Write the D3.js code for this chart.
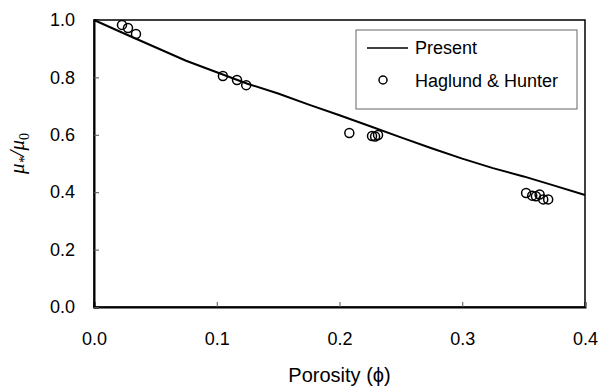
<!DOCTYPE html>
<html>
<head>
<meta charset="utf-8">
<script src="https://cdn.jsdelivr.net/npm/d3@7"></script>
<style>
    body { margin: 0; background: #fff; }
    text { font-family: "Liberation Sans", Arial, sans-serif; fill: #000; }
</style>
</head>
<body>
<div id="my_dataviz"></div>
<script>
// Present model curve
var presentPhi = [0, 0.025, 0.05, 0.075, 0.1, 0.125, 0.15, 0.175, 0.2, 0.225, 0.25, 0.275, 0.3, 0.325, 0.35, 0.375, 0.4];
var presentRatio = [1.0, 0.952, 0.905, 0.858, 0.818, 0.778, 0.744, 0.705, 0.668, 0.630, 0.591, 0.553, 0.517, 0.484, 0.455, 0.423, 0.39];

// Haglund & Hunter measurements
var hhPhi = [0.0228, 0.0277, 0.0342, 0.105, 0.1165, 0.124, 0.208, 0.2265, 0.229, 0.2314, 0.352, 0.357, 0.360, 0.363, 0.366, 0.370];
var hhRatio = [0.983, 0.972, 0.951, 0.805, 0.791, 0.773, 0.606, 0.596, 0.594, 0.599, 0.397, 0.388, 0.386, 0.392, 0.375, 0.375];

var xTicks = [0, 0.1, 0.2, 0.3, 0.4];
var yTicks = [0, 0.2, 0.4, 0.6, 0.8, 1.0];

var margin = { top: 20, right: 24, bottom: 81, left: 94 },
    width = 609 - margin.left - margin.right,
    height = 388 - margin.top - margin.bottom;

var svg = d3.select("#my_dataviz")
    .append("svg")
    .attr("width", 609)
    .attr("height", 388)
    .append("g")
    .attr("transform", "translate(" + margin.left + "," + margin.top + ")");

var x = d3.scaleLinear().domain([0, 0.4]).range([0, width]);
var y = d3.scaleLinear().domain([0, 1]).range([height, 0]);

// frame (top + right)
svg.append("rect")
    .attr("width", width)
    .attr("height", height)
    .attr("fill", "none")
    .attr("stroke", "#000")
    .attr("stroke-width", 1.5);

// X axis, ticks pointing inward
var xAxis = svg.append("g")
    .attr("transform", "translate(0," + height + ")")
    .call(d3.axisBottom(x).tickValues(xTicks).tickSize(-5).tickPadding(25).tickFormat(d3.format(".1f")));
xAxis.select(".domain").attr("stroke-width", 2);
xAxis.selectAll(".tick line").attr("stroke", "#555");
xAxis.selectAll(".tick text").style("font-size", "18px");

// Y axis
var yAxis = svg.append("g")
    .call(d3.axisLeft(y).tickValues(yTicks).tickSize(-5).tickPadding(19).tickFormat(d3.format(".1f")));
yAxis.select(".domain").attr("stroke-width", 2);
yAxis.selectAll(".tick line").attr("stroke", "#555");
yAxis.selectAll(".tick text").style("font-size", "18px");

// x label
svg.append("text")
    .attr("x", width / 2)
    .attr("y", height + 75)
    .attr("text-anchor", "middle")
    .style("font-size", "20px")
    .text("Porosity (\u03d5)");

// y label  mu_* / mu_0
var yLab = svg.append("text")
    .attr("transform", "translate(" + (-70) + "," + (height / 2 - 10) + ") rotate(-90)")
    .attr("text-anchor", "middle")
    .style("font-family", "'Liberation Serif', 'DejaVu Serif', serif")
    .style("font-style", "italic")
    .style("font-size", "21px");
yLab.append("tspan").text("\u03bc");
yLab.append("tspan").attr("dy", 5).style("font-size", "14px").text("*");
yLab.append("tspan").attr("dy", -5).text("/\u03bc");
yLab.append("tspan").attr("dy", 5).style("font-size", "14px").style("font-style", "normal").text("0");

// Present curve
svg.append("path")
    .datum(d3.range(presentPhi.length))
    .attr("fill", "none")
    .attr("stroke", "#000")
    .attr("stroke-width", 2)
    .attr("d", d3.line()
        .x(function (i) { return x(presentPhi[i]); })
        .y(function (i) { return y(presentRatio[i]); })
    );

// measured points
svg.selectAll("myCircles")
    .data(d3.range(hhPhi.length))
    .enter()
    .append("circle")
    .attr("cx", function (i) { return x(hhPhi[i]); })
    .attr("cy", function (i) { return y(hhRatio[i]); })
    .attr("r", 4.5)
    .attr("fill", "none")
    .attr("stroke", "#000")
    .attr("stroke-width", 1.5);

// legend
var legend = svg.append("g").attr("transform", "translate(" + (356 - margin.left) + "," + (30 - margin.top) + ")");
legend.append("rect")
    .attr("width", 221)
    .attr("height", 79)
    .attr("fill", "#fff")
    .attr("stroke", "#666")
    .attr("stroke-width", 1);
legend.append("line")
    .attr("x1", 11).attr("x2", 52)
    .attr("y1", 18).attr("y2", 18)
    .attr("stroke", "#000")
    .attr("stroke-width", 1.5);
legend.append("text")
    .attr("x", 59).attr("y", 24)
    .style("font-size", "18px")
    .text("Present");
legend.append("circle")
    .attr("cx", 27).attr("cy", 50)
    .attr("r", 4)
    .attr("fill", "none")
    .attr("stroke", "#000")
    .attr("stroke-width", 1.5);
legend.append("text")
    .attr("x", 59).attr("y", 57)
    .style("font-size", "18px")
    .text("Haglund & Hunter");
</script>
</body>
</html>
